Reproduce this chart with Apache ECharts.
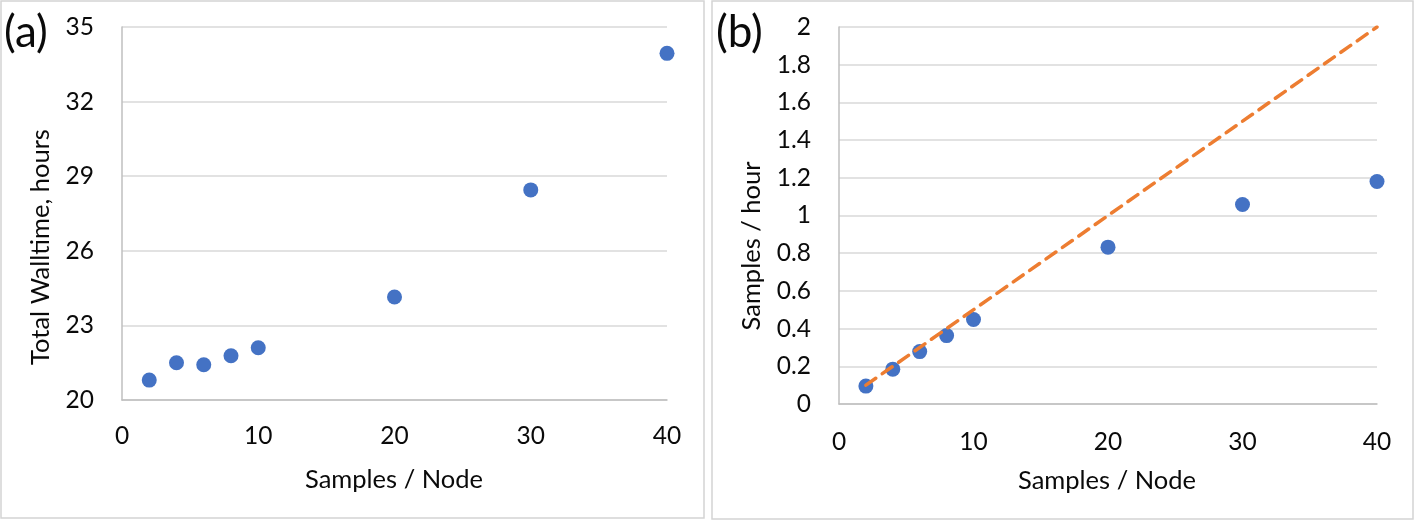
<!DOCTYPE html>
<html>
<head>
<meta charset="utf-8">
<script src="https://cdn.jsdelivr.net/npm/echarts@6/dist/echarts.min.js"></script>
<style>
html,body{margin:0;padding:0;background:#fff;}
#c{width:1415px;height:521px;}
</style>
</head>
<body>
<div id="c"></div>
<script>
// ---- data ----
const xTicks = [0, 10, 20, 30, 40];
const walltimeA = [[2, 20.8], [4, 21.5], [6, 21.42], [8, 21.78], [10, 22.1], [20, 24.14], [30, 28.45], [40, 33.94]];
const yTicksA = [20, 23, 26, 29, 32, 35];
const rateB = [[2, 0.095], [4, 0.185], [6, 0.278], [8, 0.363], [10, 0.448], [20, 0.832], [30, 1.058], [40, 1.18]];
const idealB = [[2, 0.1], [40, 2.0]];
const yTicksB = [0, 0.2, 0.4, 0.6, 0.8, 1, 1.2, 1.4, 1.6, 1.8, 2];
const labelA = '(a)', labelB = '(b)';
const xTitle = 'Samples / Node';
const yTitleA = 'Total Walltime, hours';
const yTitleB = 'Samples / hour';

const FONT = 'Lato';
const txt = '#0a0a0a';
const tickFont = {fontFamily: FONT, fontSize: 24.5, color: txt};
const titleFont = '25.5px Lato';

function xAxisCfg(gi, margin) {
  return {
    type: 'value', gridIndex: gi, min: 0, max: 40, interval: 10,
    axisLine: {show: true, lineStyle: {color: '#BFBFBF', width: 1.5}},
    axisTick: {show: false},
    splitLine: {show: false},
    axisLabel: Object.assign({margin: margin, customValues: xTicks}, tickFont)
  };
}

const chart = echarts.init(document.getElementById('c'), null, {renderer: 'canvas'});
chart.setOption({
  animation: false,
  backgroundColor: '#fff',
  grid: [
    {left: 122, top: 27, width: 545, height: 373},
    {left: 839, top: 27, width: 538, height: 377}
  ],
  xAxis: [xAxisCfg(0, 24), xAxisCfg(1, 26)],
  yAxis: [
    {
      type: 'value', gridIndex: 0, min: 20, max: 35,
      axisLine: {show: true, lineStyle: {color: '#BFBFBF', width: 1.5}},
      axisTick: {show: false, customValues: yTicksA},
      splitLine: {show: true, lineStyle: {color: '#D9D9D9', width: 1.5}},
      axisLabel: Object.assign({margin: 28, customValues: yTicksA}, tickFont)
    },
    {
      type: 'value', gridIndex: 1, min: 0, max: 2, interval: 0.2,
      axisLine: {show: true, lineStyle: {color: '#BFBFBF', width: 1.5}},
      axisTick: {show: false, customValues: yTicksB},
      splitLine: {show: true, lineStyle: {color: '#D9D9D9', width: 1.5}},
      axisLabel: Object.assign({margin: 28, customValues: yTicksB}, tickFont)
    }
  ],
  series: [
    {
      type: 'scatter', xAxisIndex: 0, yAxisIndex: 0, data: walltimeA,
      symbolSize: 15, itemStyle: {color: '#4472C4', opacity: 1}
    },
    {
      type: 'scatter', xAxisIndex: 1, yAxisIndex: 1, data: rateB,
      symbolSize: 15, itemStyle: {color: '#4472C4', opacity: 1}
    },
    {
      type: 'line', xAxisIndex: 1, yAxisIndex: 1, data: idealB, symbol: 'none', z: 5,
      lineStyle: {color: '#ED7D31', width: 3.5, type: [12, 8], cap: 'round'}
    }
  ],
  graphic: [
    {type: 'rect', shape: {x: 1, y: 1, width: 703, height: 517}, style: {fill: 'none', stroke: '#D4D4D4', lineWidth: 1.5}, silent: true},
    {type: 'rect', shape: {x: 712, y: 1, width: 701, height: 518}, style: {fill: 'none', stroke: '#D4D4D4', lineWidth: 1.5}, silent: true},
    {type: 'text', x: 4, y: 33, style: {text: labelA, font: '44px Lato', fill: txt, verticalAlign: 'middle'}},
    {type: 'text', x: 716, y: 33, style: {text: labelB, font: '44px Lato', fill: txt, verticalAlign: 'middle'}},
    {type: 'text', x: 41, y: 247, rotation: Math.PI / 2, style: {text: yTitleA, font: titleFont, fill: txt, align: 'center', verticalAlign: 'middle'}},
    {type: 'text', x: 752, y: 246, rotation: Math.PI / 2, style: {text: yTitleB, font: titleFont, fill: txt, align: 'center', verticalAlign: 'middle'}},
    {type: 'text', x: 394, y: 480, style: {text: xTitle, font: titleFont, fill: txt, align: 'center', verticalAlign: 'middle'}},
    {type: 'text', x: 1107, y: 481, style: {text: xTitle, font: titleFont, fill: txt, align: 'center', verticalAlign: 'middle'}}
  ]
});
</script>
</body>
</html>
